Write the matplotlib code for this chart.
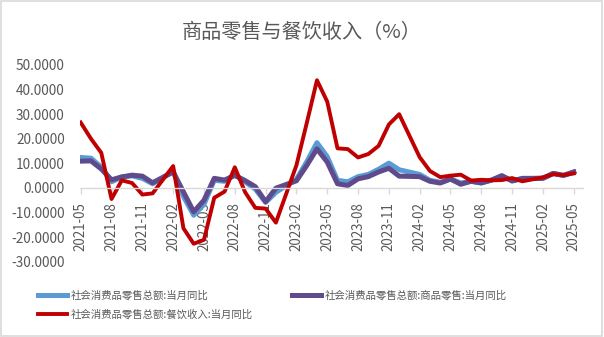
import matplotlib.pyplot as plt
from matplotlib.patches import Rectangle
import pandas as pd

plt.rcParams['font.family'] = ['Noto Sans CJK SC', 'DejaVu Sans']

months = ["2021-05", "2021-06", "2021-07", "2021-08", "2021-09", "2021-10", "2021-11", "2021-12",
          "2022-02", "2022-03", "2022-04", "2022-05", "2022-06", "2022-07", "2022-08", "2022-09",
          "2022-10", "2022-11", "2022-12",
          "2023-02", "2023-03", "2023-04", "2023-05", "2023-06", "2023-07", "2023-08", "2023-09",
          "2023-10", "2023-11", "2023-12",
          "2024-02", "2024-03", "2024-04", "2024-05", "2024-06", "2024-07", "2024-08", "2024-09",
          "2024-10", "2024-11", "2024-12",
          "2025-02", "2025-03", "2025-04", "2025-05"]

total = [12.4, 12.1, 8.5, 2.5, 4.4, 4.9, 3.9, 1.7,
         6.7, -3.5, -11.1, -6.7, 3.1, 2.7, 5.4, 2.5, -0.5, -5.9, -1.8,
         3.5, 10.6, 18.4, 12.7, 3.1, 2.5, 4.6, 5.5, 7.6, 10.1, 7.4,
         5.5, 3.1, 2.3, 3.7, 2.0, 2.7, 2.1, 3.2, 4.8, 3.0, 3.7,
         4.0, 5.9, 5.1, 6.4]
goods = [10.9, 11.0, 7.7, 3.3, 4.5, 5.2, 4.8, 2.1,
         6.5, -1.6, -9.7, -5.0, 3.9, 3.2, 5.1, 3.0, 0.5, -5.6, -0.1,
         2.9, 9.1, 15.9, 10.5, 1.7, 1.0, 3.7, 4.6, 6.5, 8.0, 4.8,
         4.6, 2.7, 2.0, 3.6, 1.5, 2.7, 2.0, 3.2, 5.0, 2.8, 3.9,
         3.9, 5.9, 5.1, 6.5]
catering = [26.6, 20.0, 14.3, -4.5, 3.1, 2.0, -2.7, -2.2,
            8.9, -16.4, -22.7, -21.1, -4.0, -1.5, 8.4, -1.7, -8.1, -8.4, -14.1,
            9.2, 26.3, 43.8, 35.1, 16.1, 15.8, 12.4, 13.8, 17.1, 25.8, 30.0,
            12.5, 6.9, 4.4, 5.0, 5.4, 3.0, 3.3, 3.1, 3.2, 4.0, 2.7,
            4.3, 5.6, 5.2, 5.9]

tick_labels = ["2021-05", "2021-08", "2021-11", "2022-02", "2022-05", "2022-08", "2022-11",
               "2023-02", "2023-05", "2023-08", "2023-11", "2024-02", "2024-05", "2024-08",
               "2024-11", "2025-02", "2025-05"]

names = ["社会消费品零售总额:当月同比",
         "社会消费品零售总额:商品零售:当月同比",
         "社会消费品零售总额:餐饮收入:当月同比"]

# month index counted from 2021-05 (date axis, January missing)
def month_idx(s):
    d = pd.Period(s, freq="M")
    return (d - pd.Period("2021-05", freq="M")).n

x = [month_idx(m) for m in months]
tick_pos = [month_idx(m) for m in tick_labels]

grey = "#595959"

fig = plt.figure(figsize=(6.04, 3.37), dpi=100)
ax = fig.add_axes([80 / 604, 1 - 261.7 / 337, 503 / 604, 196.7 / 337])

l1, = ax.plot(x, total, color="#5b9bd5", linewidth=3.6, label=names[0], solid_joinstyle="round")
l2, = ax.plot(x, goods, color="#5f4a8b", linewidth=3.6, label=names[1], solid_joinstyle="round")
l3, = ax.plot(x, catering, color="#c00000", linewidth=2.8, label=names[2], solid_joinstyle="round")

for s in ["top", "right", "left"]:
    ax.spines[s].set_visible(False)
ax.spines["bottom"].set_position(("data", 0))
ax.spines["bottom"].set_color("#d9d9d9")
ax.spines["bottom"].set_linewidth(1)

ax.set_ylim(-30, 50)
ax.set_xlim(-0.07, 48.9)
ax.set_yticks(range(-30, 51, 10))
ax.set_yticklabels(["%.4f" % v for v in range(-30, 51, 10)])
ax.set_xticks(tick_pos)
ax.set_xticklabels(tick_labels)

ax.tick_params(axis="y", length=0, pad=11, labelsize=9.8, labelcolor=grey)
ax.tick_params(axis="x", length=4, width=1, color="#d9d9d9", pad=6, labelsize=9.6,
               labelcolor=grey, labelrotation=90)

fig.text(0.5, 1 - 33 / 337, "商品零售与餐饮收入（%）", ha="center", va="center",
         fontsize=14.5, color=grey)

fig.legend([l1, l3, l2], [names[0], names[2], names[1]], ncol=2,
           loc="upper left", bbox_to_anchor=(38 / 604, 1 - 290 / 337),
           frameon=False, fontsize=7.5, labelcolor=grey, handlelength=2.8,
           handletextpad=0.3, columnspacing=3.8, labelspacing=0.8,
           borderaxespad=0, borderpad=0)

fig.patches.append(Rectangle((0.002, 0.004), 0.994, 0.992, transform=fig.transFigure,
                             fill=False, edgecolor="#d9d9d9", linewidth=1.2))

fig.savefig("out.png", dpi=100)
